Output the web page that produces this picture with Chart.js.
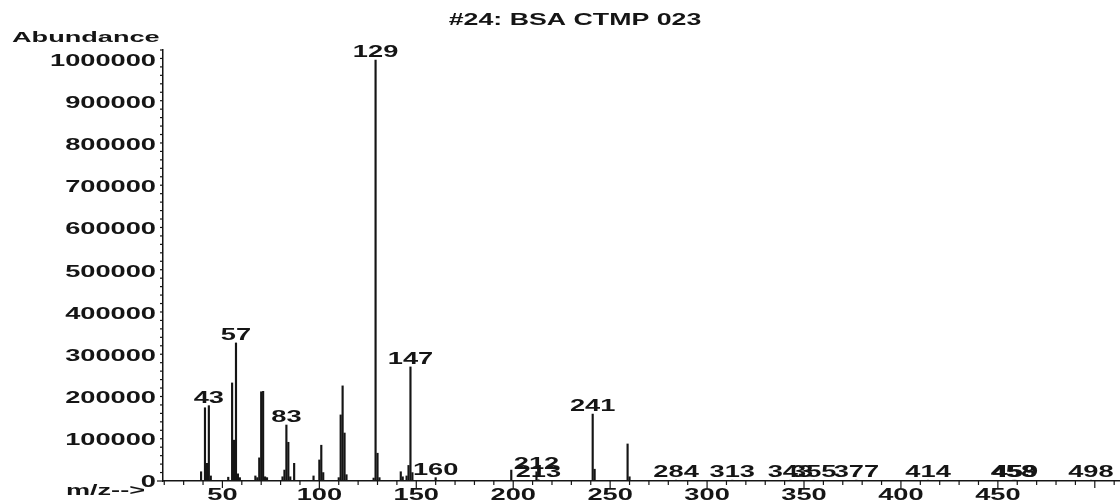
<!doctype html>
<html lang="en">
<head>
    <meta charset="utf-8">
    <title>#24: BSA CTMP 023</title>
    <style>
        * {
            margin: 0;
            padding: 0;
        }

        body {
            background: #fff;
        }

        .chartBox {
            width: 1120px;
            height: 503px;
        }
    </style>
</head>
<body>
<div class="chartBox">
    <canvas id="myChart"></canvas>
</div>
<script src="https://cdn.jsdelivr.net/npm/chart.js"></script>
<script>
    // data
    const title = '#24: BSA CTMP 023';
    const mz = [39, 41, 42, 43, 44, 53, 55, 56, 57, 58, 59, 67, 68, 69, 70, 71, 72, 73,
        81, 82, 83, 84, 85, 87, 97, 100, 101, 102, 110, 111, 112, 113, 114,
        128, 129, 130, 131, 142, 143, 145, 146, 147, 148, 160, 199, 212, 213,
        241, 242, 259, 260, 284, 313, 343, 355, 377, 414, 458, 459, 498];
    const abundance = [22000, 174000, 42000, 179000, 12000, 9000, 233000, 97000, 328000, 17000, 8000, 12000, 8000, 55000, 212000, 213000, 10000, 8000,
        10000, 26000, 133000, 92000, 10000, 42000, 12000, 50000, 85000, 20000, 8000, 157000, 226000, 114000, 15000,
        7000, 1000000, 66000, 8000, 22000, 10000, 12000, 37000, 271000, 20000, 8000, 26000, 22000, 3000,
        159000, 28000, 88000, 10000, 2000, 2000, 2000, 2000, 2000, 2000, 2000, 2000, 2000];
    const labelled = [43, 57, 83, 129, 147, 160, 212, 213, 241, 284, 313, 343, 355, 377, 414, 458, 459, 498];
    const xTickLabels = [50, 100, 150, 200, 250, 300, 350, 400, 450];
    const yTickLabels = [0, 100000, 200000, 300000, 400000, 500000, 600000, 700000, 800000, 900000, 1000000];

    const INK = '#151515';
    const FONT = '"Liberation Sans", Arial, sans-serif';

    // the scan uses a wide face, so stretch text sideways
    function wideText(ctx, str, x, y, size, sx, align) {
        ctx.save();
        ctx.font = 'bold ' + size + 'px ' + FONT;
        ctx.fillStyle = INK;
        ctx.textAlign = 'left';
        ctx.textBaseline = 'alphabetic';
        const w = ctx.measureText(str).width * sx;
        let left = x;
        if (align === 'center') left = x - w / 2;
        if (align === 'right') left = x - w;
        ctx.translate(left, y);
        ctx.scale(sx, 1);
        ctx.fillText(str, 0, 0);
        ctx.restore();
    }

    const axesText = {
        id: 'axesText',
        afterDraw(chart) {
            const {ctx, chartArea: {left, bottom}, scales: {x, y}} = chart;
            ctx.save();
            ctx.strokeStyle = INK;
            ctx.lineWidth = 1.2;

            // x ticks, every 10 with longer ones every 50
            x.ticks.forEach(t => {
                const px = x.getPixelForValue(t.value);
                const major = t.value % 50 === 0;
                ctx.beginPath();
                ctx.moveTo(px, bottom);
                ctx.lineTo(px, bottom + (major ? 7 : 4));
                ctx.stroke();
            });
            // y ticks, every 20000 with longer ones every 100000
            y.ticks.forEach(t => {
                const py = y.getPixelForValue(t.value);
                const major = t.value % 100000 === 0;
                ctx.beginPath();
                ctx.moveTo(left, py);
                ctx.lineTo(left - (major ? 6 : 3), py);
                ctx.stroke();
            });
            ctx.restore();

            xTickLabels.forEach(v => {
                wideText(ctx, String(v), x.getPixelForValue(v), bottom + 19, 16.5, 1.65, 'center');
            });
            yTickLabels.forEach(v => {
                wideText(ctx, String(v), left - 7, y.getPixelForValue(v) + 6, 16.5, 1.65, 'right');
            });

            // peak labels sit just above the line top
            labelled.forEach(m => {
                const i = mz.indexOf(m);
                const px = x.getPixelForValue(m);
                const py = y.getPixelForValue(abundance[i]);
                wideText(ctx, String(m), px, py - 3, 16.5, 1.65, 'center');
            });

            wideText(ctx, title, 575, 25, 16.5, 1.62, 'center');
            wideText(ctx, 'Abundance', 12, 42, 15.5, 1.75, 'left');
            wideText(ctx, 'm/z-->', 145, 495, 15.5, 1.75, 'right');
        }
    };

    const data = {
        datasets: [{
            label: 'Abundance',
            data: mz.map((m, i) => ({x: m, y: abundance[i]})),
            backgroundColor: INK,
            borderWidth: 0,
            barThickness: 1.5,
        }]
    };

    const config = {
        type: 'bar',
        data,
        options: {
            responsive: true,
            maintainAspectRatio: false,
            animation: false,
            layout: {
                padding: {left: 163, right: 0, top: 50, bottom: 22}
            },
            plugins: {
                legend: {display: false},
                tooltip: {enabled: false}
            },
            scales: {
                x: {
                    type: 'linear',
                    min: 19.35,
                    max: 513,
                    offset: false,
                    ticks: {display: false, stepSize: 10, includeBounds: false},
                    grid: {display: false},
                    border: {display: true, color: INK, width: 1.5},
                    afterFit(scale) {
                        scale.height = 0;
                    }
                },
                y: {
                    min: 0,
                    max: 1024000,
                    ticks: {display: false, stepSize: 20000, includeBounds: false},
                    grid: {display: false},
                    border: {display: true, color: INK, width: 1.5},
                    afterFit(scale) {
                        scale.width = 0;
                    }
                }
            }
        },
        plugins: [axesText]
    };

    const myChart = new Chart(
        document.getElementById('myChart'),
        config
    );
</script>

</body>
</html>
